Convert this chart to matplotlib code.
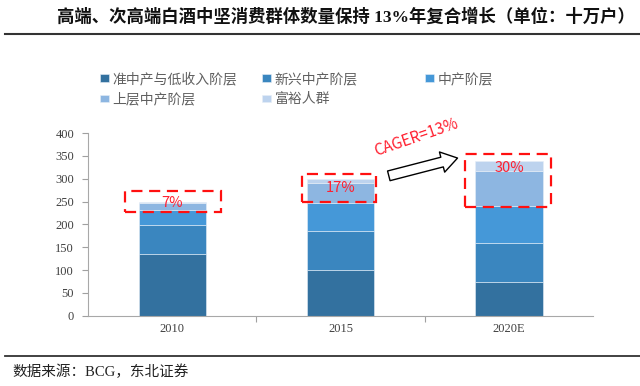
import matplotlib.pyplot as plt
from matplotlib.patches import Rectangle

years = ["2010", "2015", "2020E"]
segments = ["准中产与低收入阶层", "新兴中产阶层", "中产阶层", "上层中产阶层", "富裕人群"]
low_income = [135, 101, 73]
emerging_mid = [64, 85, 87]
middle = [33, 61, 81]
upper_mid = [15, 43, 76]
affluent = [3, 10, 23]
shares = ["7%", "17%", "30%"]
colors = ["#33719F", "#3A86BF", "#4598D8", "#8DB6E1", "#BDD3EE"]

plt.rcParams['font.family'] = ['Noto Sans CJK SC', 'DejaVu Sans']
serif_cjk = ['Liberation Serif', 'Noto Sans CJK SC']

fig = plt.figure(figsize=(6.4, 3.86), dpi=100)
ax = fig.add_axes([0.1375, 0.182, 0.7895, 0.473])

x = range(len(years))
bottom = [0, 0, 0]
handles = []
for name, vals, c in zip(segments, [low_income, emerging_mid, middle, upper_mid, affluent], colors):
    h = ax.bar(x, vals, 0.4, bottom=bottom, color=c, label=name, edgecolor="#E6EEF7", linewidth=0.4)
    handles.append(h)
    bottom = [b + v for b, v in zip(bottom, vals)]

ax.set_xlim(-0.5, 2.5)
ax.set_ylim(0, 400)
ax.set_yticks(range(0, 401, 50))
ax.set_xticks([0.5, 1.5], minor=False)
ax.set_xticklabels([])
ax.set_xticks(list(x), minor=True)
ax.set_xticklabels(years, minor=True)
ax.tick_params(axis="x", which="major", length=4, color="#A0A0A0", direction="out")
ax.tick_params(axis="x", which="minor", length=0, pad=5)
ax.tick_params(axis="y", length=4, color="#A0A0A0", pad=6)
for lab in ax.get_yticklabels() + ax.get_xticklabels(minor=True):
    lab.set_family("Liberation Serif")
    lab.set_fontsize(9)
    lab.set_color("#404040")
for s in ["top", "right"]:
    ax.spines[s].set_visible(False)
for s in ["left", "bottom"]:
    ax.spines[s].set_color("#A8A8A8")

# red dashed boxes around the top segments
boxes = [(-0.28, 227, 0.57, 46), (-0.23, 250, 0.44, 60), (-0.26, 239, 0.51, 115)]
label_y = [248, 280, 324]
for (bx, by, bw, bh), s, ly, xi in zip(boxes, shares, label_y, x):
    ax.add_patch(Rectangle((xi + bx, by), bw, bh, fill=False, edgecolor="#FF1010",
                           linestyle=(0, (5, 3)), linewidth=1.6, clip_on=False, zorder=5))
    ax.text(xi, ly, s, color="#FF2030", fontsize=10.5, ha="center", va="center", zorder=6)

ax.annotate("", xy=(1.71, 347), xytext=(1.27, 305),
            arrowprops=dict(arrowstyle="simple,head_width=1.5,head_length=1.15,tail_width=0.72",
                            facecolor="white", edgecolor="black", linewidth=1.0))
ax.text(1.45, 390, "CAGER=13%", color="#FF2030", fontsize=11, rotation=19,
        ha="center", va="center")

# legend: three columns placed by hand, filled row by row
cols = [[0, 3], [1, 4], [2]]
col_x = [100, 262, 425]
for idx, cx in zip(cols, col_x):
    leg = fig.legend([handles[i] for i in idx], [segments[i] for i in idx],
                     loc="upper left", bbox_to_anchor=(cx / 640, 1 - 72 / 386),
                     frameon=False, fontsize=10, borderpad=0, borderaxespad=0,
                     handlelength=0.65, handleheight=0.45, handletextpad=0.25,
                     labelspacing=0.45)
    for t in leg.get_texts():
        t.set_color("#606060")

fig.text(0.089, 0.956, "高端、次高端白酒中坚消费群体数量保持 13%年复合增长（单位：十万户）",
         fontsize=12.5, fontweight="bold", ha="left", va="center", color="#111111",
         family=serif_cjk)
fig.add_artist(plt.Line2D([0.008, 1.0], [0.913, 0.913], color="#333333", linewidth=1.5))
fig.add_artist(plt.Line2D([0.008, 1.0], [0.078, 0.078], color="#333333", linewidth=1.3))
fig.text(0.02, 0.037, "数据来源：BCG，东北证券", fontsize=10.5, ha="left", va="center",
         color="#222222", family=serif_cjk)

fig.savefig("out.png", dpi=100)
